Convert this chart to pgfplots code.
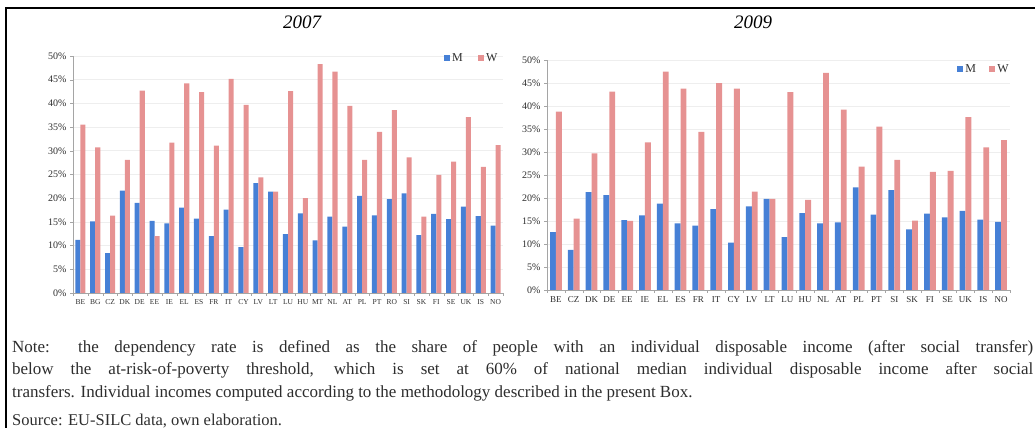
\documentclass[border=0pt]{standalone}
\usepackage{pgfplots}
\usepackage{pgfplotstable}
\usepackage{fontspec}
\setmainfont{Liberation Serif}
\pgfplotsset{compat=1.18}

\definecolor{barM}{RGB}{70,128,214}
\definecolor{barW}{RGB}{230,146,146}
\definecolor{txt}{RGB}{45,45,45}
\definecolor{axgray}{RGB}{165,165,165}

% dependency rate, 2007
\pgfplotstableread{
c  M    W
BE 11.2 35.5
BG 15.1 30.7
CZ 8.4  16.3
DK 21.6 28.1
DE 19.0 42.7
EE 15.2 12.0
IE 14.7 31.7
EL 18.0 44.2
ES 15.7 42.4
FR 12.0 31.1
IT 17.6 45.2
CY 9.7  39.7
LV 23.2 24.4
LT 21.4 21.4
LU 12.4 42.6
HU 16.8 20.0
MT 11.1 48.3
NL 16.1 46.7
AT 14.0 39.5
PL 20.5 28.1
PT 16.4 34.0
RO 19.8 38.6
SI 21.0 28.6
SK 12.2 16.1
FI 16.7 24.9
SE 15.6 27.7
UK 18.2 37.1
IS 16.2 26.6
NO 14.2 31.2
}\tabA

% dependency rate, 2009
\pgfplotstableread{
c  M    W
BE 12.6 38.8
CZ 8.7  15.5
DK 21.3 29.7
DE 20.6 43.1
EE 15.2 15.0
IE 16.2 32.1
EL 18.8 47.5
ES 14.5 43.8
FR 14.0 34.4
IT 17.6 45.0
CY 10.3 43.8
LV 18.2 21.4
LT 19.8 19.8
LU 11.5 43.0
HU 16.7 19.6
NL 14.5 47.2
AT 14.7 39.2
PL 22.3 26.8
PT 16.4 35.5
SI 21.7 28.3
SK 13.2 15.1
FI 16.6 25.7
SE 15.8 25.9
UK 17.2 37.6
IS 15.3 31.0
NO 14.8 32.6
}\tabB

\pgfplotsset{
  deprate/.style={
    scale only axis,
    ymin=0, ymax=50,
    ytick={0,5,...,50},
    yticklabels={0\%,5\%,10\%,15\%,20\%,25\%,30\%,35\%,40\%,45\%,50\%},
    enlargelimits=false,
    axis lines*=left,
    axis line style={axgray},
    tick align=outside,
    major tick length=3bp,
    minor tick length=3bp,
    y tick style={axgray},
    major x tick style={draw=none},
    minor x tick style={axgray},
    ymajorgrids,
    grid style={gray!13, line width=0.6bp},
    yticklabel style={font=\fontsize{10bp}{12bp}\selectfont, text=txt},
    legend style={draw=none, fill=none, legend columns=2,
      font=\fontsize{12bp}{12bp}\selectfont, text=txt,
      inner sep=0bp, row sep=0bp,
      nodes={inner sep=1bp},
      /tikz/every odd column/.append style={column sep=1bp},
      /tikz/every even column/.append style={column sep=14bp}},
  },
}

\begin{document}
\begin{tikzpicture}
\path[use as bounding box] (0,0) rectangle (1035bp,428bp);
\draw[line width=1.5bp] (6bp,-1bp) -- (6bp,420bp) -- (1036bp,420bp);

\begin{axis}[deprate,
  at={(73bp,135bp)}, anchor=south west,
  width=430bp, height=237bp,
  xmin=-0.5, xmax=28.5,
  xtick={0,...,28},
  minor xtick={-0.5,0.5,...,28.5},
  xticklabels from table={\tabA}{c},
  xticklabel style={font=\fontsize{7.5bp}{8bp}\selectfont, text=txt},
  legend style={at={(0.99,1.015)}, anchor=north east},
  ]
  \addplot[fill=barM, draw=none, ybar, bar width=0.34, bar shift=-0.17,
    legend image code/.code={\fill[barM] (0bp,-3bp) rectangle (6.5bp,3.5bp);}]
    table[x expr=\coordindex, y=M] {\tabA};
  \addplot[fill=barW, draw=none, ybar, bar width=0.34, bar shift=0.17,
    legend image code/.code={\fill[barW] (0bp,-3bp) rectangle (6.5bp,3.5bp);}]
    table[x expr=\coordindex, y=W] {\tabA};
  \legend{M, W}
\end{axis}

\begin{axis}[deprate,
  at={(547bp,138bp)}, anchor=south west,
  width=463bp, height=230bp,
  xmin=-0.5, xmax=25.5,
  xtick={0,...,25},
  minor xtick={-0.5,0.5,...,25.5},
  xticklabels from table={\tabB}{c},
  xticklabel style={font=\fontsize{9bp}{10bp}\selectfont, text=txt},
  legend style={at={(1,0.985)}, anchor=north east,
    /tikz/every even column/.append style={column sep=12bp}},
  ]
  \addplot[fill=barM, draw=none, ybar, bar width=0.33, bar shift=-0.165,
    legend image code/.code={\fill[barM] (0bp,-3bp) rectangle (6.5bp,3.5bp);}]
    table[x expr=\coordindex, y=M] {\tabB};
  \addplot[fill=barW, draw=none, ybar, bar width=0.33, bar shift=0.165,
    legend image code/.code={\fill[barW] (0bp,-3bp) rectangle (6.5bp,3.5bp);}]
    table[x expr=\coordindex, y=W] {\tabB};
  \legend{M, W}
\end{axis}

\node[font=\fontsize{19bp}{20bp}\selectfont\itshape] at (302bp,406bp) {2007};
\node[font=\fontsize{19bp}{20bp}\selectfont\itshape] at (753bp,406bp) {2009};

\begin{scope}[every node/.style={anchor=base west, inner sep=0pt, text=txt,
    font=\fontsize{17bp}{20bp}\selectfont}]
\node at (12bp,75bp) {\makebox[1021bp][s]{Note: the dependency rate is defined as the share of people with an individual disposable income (after social transfer)}};
\node at (12bp,53bp) {\makebox[1021bp][s]{below the at-risk-of-poverty threshold, which is set at 60\% of national median individual disposable income after social}};
\node at (12bp,31bp) {transfers. Individual incomes computed according to the methodology described in the present Box.};
\node[font=\fontsize{16.5bp}{17bp}\selectfont] at (12bp,3bp) {Source: EU-SILC data, own elaboration.};
\end{scope}
\end{tikzpicture}
\end{document}
